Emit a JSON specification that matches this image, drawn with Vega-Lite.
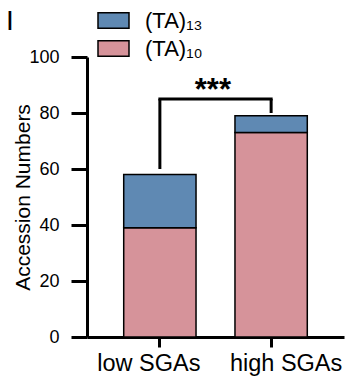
{
  "$schema": "https://vega.github.io/schema/vega-lite/v6.json",
  "width": 257,
  "height": 280,
  "autosize": {"type": "none"},
  "padding": {"left": 87, "top": 57, "right": 7, "bottom": 46},
  "config": {
    "font": "Liberation Sans",
    "view": {"stroke": null},
    "axis": {"domainColor": "black", "tickColor": "black", "labelColor": "black", "titleColor": "black", "domainWidth": 3, "tickWidth": 3, "grid": false, "labelFont": "Liberation Sans", "titleFont": "Liberation Sans"}
  },
  "title": {"text": "I", "anchor": "start", "frame": "group", "fontSize": 28, "fontWeight": "normal", "font": "Liberation Sans", "color": "black", "dx": -81, "offset": -6, "dy": 26},
  "layer": [
    {
      "data": {"values": [
        {"group": "low SGAs", "allele": "(TA)₁₀", "count": 39},
        {"group": "low SGAs", "allele": "(TA)₁₃", "count": 19},
        {"group": "high SGAs", "allele": "(TA)₁₀", "count": 73},
        {"group": "high SGAs", "allele": "(TA)₁₃", "count": 6}
      ]},
      "mark": {"type": "bar", "stroke": "black", "strokeWidth": 1.5, "opacity": 1},
      "encoding": {
        "x": {"field": "group", "type": "nominal", "sort": ["low SGAs", "high SGAs"],
              "scale": {"domain": ["low SGAs", "high SGAs"], "paddingInner": 0.35, "paddingOuter": 0.33},
              "axis": {"title": null, "labelAngle": 0, "labelFontSize": 23.5, "tickSize": 10, "labelPadding": 4,
                       "labelOffset": {"condition": {"test": "datum.value === 'low SGAs'", "value": -11}, "value": 15}}},
        "y": {"field": "count", "type": "quantitative", "stack": "zero",
              "scale": {"domain": [0, 100]},
              "axis": {"title": "Accession Numbers", "values": [0, 20, 40, 60, 80, 100], "labelFontSize": 18, "titleFontSize": 21, "titleFontWeight": "normal", "tickSize": 16, "labelPadding": 12, "titlePadding": -5}},
        "color": {"field": "allele", "type": "nominal",
                  "scale": {"domain": ["(TA)₁₃", "(TA)₁₀"], "range": ["#5f89b3", "#d6939a"]},
                  "legend": {"orient": "none", "legendX": 10, "legendY": -53, "title": null, "symbolType": "M-1,-0.5H1V0.5H-1Z", "symbolSize": 961, "symbolStrokeColor": "black", "symbolStrokeWidth": 1.5, "symbolOpacity": 1, "labelFontSize": 22, "labelOffset": 15, "labelColor": "black", "rowPadding": -1, "padding": 0}},
        "order": {"field": "allele", "sort": "ascending"}
      }
    },
    {
      "data": {"values": [
        {"group": "low SGAs", "y": 60, "y2": 85},
        {"group": "high SGAs", "y": 80, "y2": 85}
      ]},
      "mark": {"type": "rule", "strokeWidth": 3, "color": "black"},
      "encoding": {
        "x": {"field": "group", "type": "nominal", "sort": ["low SGAs", "high SGAs"]},
        "y": {"field": "y", "type": "quantitative"},
        "y2": {"field": "y2"}
      }
    },
    {
      "data": {"values": [
        {"group": "low SGAs", "group2": "high SGAs", "y": 85}
      ]},
      "mark": {"type": "rule", "strokeWidth": 3, "color": "black", "strokeCap": "square"},
      "encoding": {
        "x": {"field": "group", "type": "nominal", "sort": ["low SGAs", "high SGAs"]},
        "x2": {"field": "group2"},
        "y": {"field": "y", "type": "quantitative"}
      }
    },
    {
      "data": {"values": [
        {"group": "low SGAs", "y": 85, "label": "***"}
      ]},
      "mark": {"type": "text", "fontSize": 31, "fontWeight": "bold", "color": "black", "baseline": "alphabetic", "align": "center", "dx": 53, "dy": 1},
      "encoding": {
        "x": {"field": "group", "type": "nominal", "sort": ["low SGAs", "high SGAs"]},
        "y": {"field": "y", "type": "quantitative"},
        "text": {"field": "label"}
      }
    }
  ]
}
